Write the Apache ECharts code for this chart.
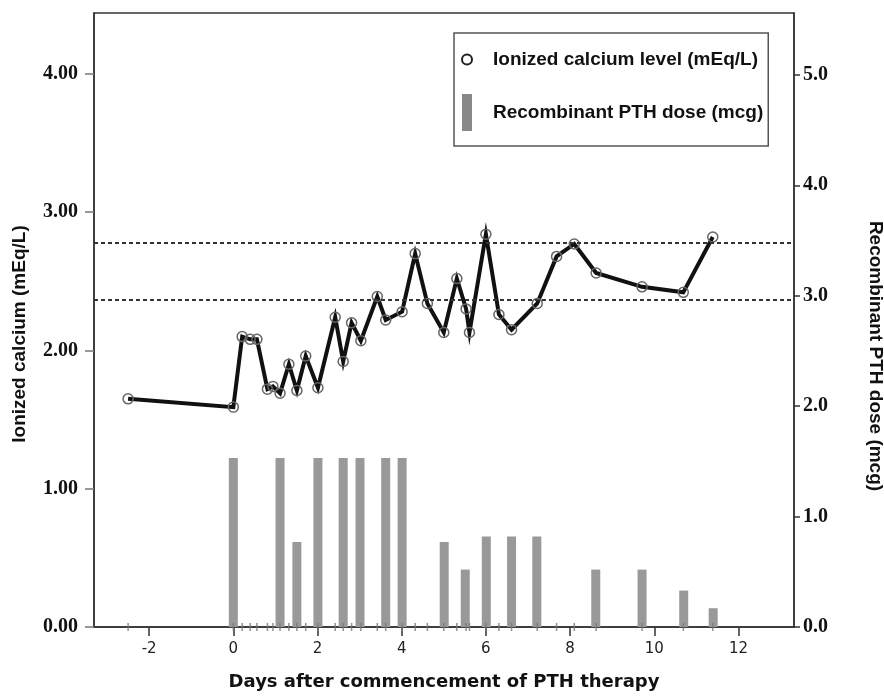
<!DOCTYPE html>
<html>
<head>
<meta charset="utf-8">
<script src="https://cdn.jsdelivr.net/npm/echarts@6/dist/echarts.min.js"></script>
<style>
  html, body { margin: 0; padding: 0; background: #fff; }
  #chart { width: 884px; height: 696px; }
</style>
</head>
<body>
<div id="chart"></div>
<script>
// ionized calcium measurements (days after start, mEq/L)
const days = [-2.5, 0, 0.21, 0.4, 0.56, 0.81, 0.94, 1.11, 1.32, 1.51, 1.72, 2.01, 2.42, 2.61, 2.81, 3.03, 3.42, 3.62, 4.01, 4.32, 4.61, 5.0, 5.31, 5.53, 5.61, 6.0, 6.31, 6.61, 7.22, 7.68, 8.1, 8.62, 9.71, 10.69, 11.39]
const calcium = [1.65, 1.59, 2.10, 2.08, 2.08, 1.72, 1.74, 1.69, 1.90, 1.71, 1.96, 1.73, 2.24, 1.92, 2.20, 2.07, 2.39, 2.22, 2.28, 2.70, 2.34, 2.13, 2.52, 2.30, 2.13, 2.84, 2.26, 2.15, 2.34, 2.68, 2.77, 2.56, 2.46, 2.42, 2.82]

// PTH doses (days after start, mcg)
const doseDays = [0, 1.11, 1.51, 2.01, 2.61, 3.01, 3.62, 4.01, 5.01, 5.51, 6.01, 6.61, 7.21, 8.61, 9.71, 10.7, 11.4]
const doses = [1.53, 1.53, 0.77, 1.53, 1.53, 1.53, 1.53, 1.53, 0.77, 0.52, 0.82, 0.82, 0.82, 0.52, 0.52, 0.33, 0.17]

// reference range lines
const refLines = [2.37, 2.78]

const xTicks = [-2, 0, 2, 4, 6, 8, 10, 12]
const leftTicks = [0, 1, 2, 3, 4]
const rightTicks = [0, 1, 2, 3, 4, 5]

const calName = 'Ionized calcium level (mEq/L)'
const doseName = 'Recombinant PTH dose (mcg)'

const serif = { fontFamily: 'Liberation Serif', fontWeight: 'bold', fontSize: 20, color: '#111' }

const c = echarts.init(document.getElementById('chart'))
c.setOption({
  animation: false,
  grid: { left: 94, right: 90, top: 13, bottom: 69, show: true, borderColor: '#333', borderWidth: 1.5 },
  legend: {
    left: 454, top: 33, orient: 'vertical', selectedMode: false,
    itemWidth: 10, itemHeight: 37, itemGap: 16,
    padding: [8, 5, 15, 7],
    borderColor: '#555', borderWidth: 1.5,
    textStyle: { fontFamily: 'Liberation Sans', fontWeight: 'bold', fontSize: 19, lineHeight: 37, color: '#111', padding: [0, 0, 0, 16] },
    data: [
      { name: calName, icon: 'emptyCircle', itemStyle: { color: '#222' } },
      { name: doseName, icon: 'rect', itemStyle: { color: '#888' } }
    ]
  },
  xAxis: {
    type: 'value', min: -3.31, max: 13.32,
    axisLine: { onZero: false, lineStyle: { color: '#333', width: 1.5 } },
    axisTick: { customValues: xTicks, length: 9, lineStyle: { color: '#333', width: 1.5 } },
    axisLabel: { customValues: xTicks, margin: 15, fontFamily: 'DejaVu Sans', fontSize: 15, color: '#222' },
    splitLine: { show: false },
    name: 'Days after commencement of PTH therapy',
    nameLocation: 'middle', nameGap: 46,
    nameTextStyle: { fontFamily: 'DejaVu Sans', fontWeight: 'bold', fontSize: 18, color: '#111' }
  },
  yAxis: [
    {
      type: 'value', min: 0, max: 4.44,
      axisLine: { show: true, onZero: false, lineStyle: { color: '#333', width: 1.5 } },
      axisTick: { show: true, customValues: leftTicks, length: 9, lineStyle: { color: '#777', width: 1.5 } },
      axisLabel: Object.assign({ customValues: leftTicks, margin: 16, formatter: v => v.toFixed(2) }, serif),
      splitLine: { show: false }
    },
    {
      type: 'value', min: 0, max: 5.56, position: 'right',
      axisLine: { show: true, onZero: false, lineStyle: { color: '#333', width: 1.5 } },
      axisTick: { show: true, customValues: rightTicks, length: 6, lineStyle: { color: '#333', width: 1.5 } },
      axisLabel: Object.assign({ customValues: rightTicks, margin: 9, formatter: v => v.toFixed(1) }, serif),
      splitLine: { show: false }
    }
  ],
  graphic: [
    { type: 'text', x: 20, y: 334, rotation: Math.PI / 2,
      style: { text: 'Ionized calcium (mEq/L)', fontFamily: 'Liberation Sans', fontWeight: 'bold', fontSize: 19, fill: '#111', align: 'center', verticalAlign: 'middle' } },
    { type: 'text', x: 875, y: 356, rotation: -Math.PI / 2,
      style: { text: 'Recombinant PTH dose (mcg)', fontFamily: 'Liberation Sans', fontWeight: 'bold', fontSize: 19, fill: '#111', align: 'center', verticalAlign: 'middle' } }
  ],
  series: [
    {
      name: doseName, type: 'bar', yAxisIndex: 1, barWidth: 9, z: 1,
      itemStyle: { color: '#999' },
      data: doseDays.map((d, i) => [d, doses[i]])
    },
    {
      name: 'rug', type: 'scatter', yAxisIndex: 0, clip: false, z: 3, silent: true,
      symbol: 'rect', symbolSize: [1.5, 8],
      itemStyle: { color: '#777' },
      data: days.map(d => [d, 0])
    },
    {
      name: calName, type: 'line', yAxisIndex: 0, z: 4,
      symbol: 'circle', symbolSize: 10,
      lineStyle: { width: 4, color: '#111', join: 'miter', miterLimit: 10 },
      itemStyle: { color: 'rgba(0,0,0,0)', borderColor: '#666', borderWidth: 1.5 },
      data: days.map((d, i) => [d, calcium[i]]),
      markLine: {
        silent: true, symbol: 'none', label: { show: false },
        lineStyle: { color: '#333', width: 2, type: [4, 3] },
        data: refLines.map(v => ({ yAxis: v }))
      }
    }
  ]
})
window.addEventListener('resize', () => c.resize())
</script>
</body>
</html>
